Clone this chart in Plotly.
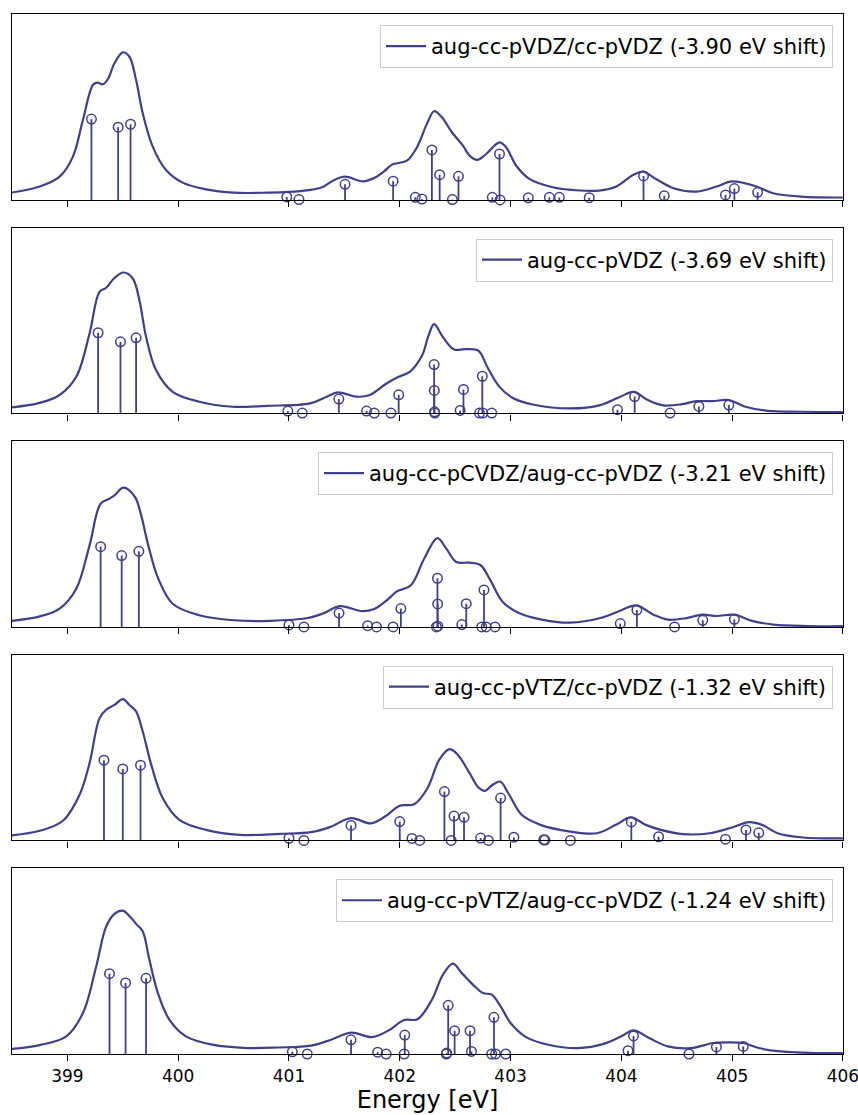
import plotly.graph_objects as go
from plotly.subplots import make_subplots

# ---------------- data ----------------
labels = [
    "aug-cc-pVDZ/cc-pVDZ (-3.90 eV shift)",
    "aug-cc-pVDZ (-3.69 eV shift)",
    "aug-cc-pCVDZ/aug-cc-pVDZ (-3.21 eV shift)",
    "aug-cc-pVTZ/cc-pVDZ (-1.32 eV shift)",
    "aug-cc-pVTZ/aug-cc-pVDZ (-1.24 eV shift)",
]
tick_values = [399, 400, 401, 402, 403, 404, 405, 406]

# broadened spectra (energy, intensity)
curve1_x = [398.49, 398.75, 398.93, 399.05, 399.14, 399.23, 399.27, 399.32, 399.365, 399.425, 399.5, 399.56, 399.62, 399.68, 399.77, 399.89, 400.04, 400.25, 400.5, 400.8, 401.1, 401.3, 401.4, 401.505, 401.67, 401.79, 401.855, 401.93, 401.975, 402.065, 402.155, 402.245, 402.31, 402.38, 402.47, 402.57, 402.63, 402.70, 402.78, 402.90, 402.96, 403.05, 403.17, 403.38, 403.59, 403.80, 403.955, 404.105, 404.196, 404.317, 404.47, 404.68, 404.86, 405.0, 405.22, 405.37, 405.62, 406.0]
curve1_y = [0.039, 0.072, 0.125, 0.233, 0.43, 0.618, 0.631, 0.622, 0.649, 0.735, 0.794, 0.77, 0.645, 0.466, 0.287, 0.161, 0.093, 0.057, 0.039, 0.039, 0.047, 0.068, 0.105, 0.125, 0.10, 0.125, 0.152, 0.19, 0.197, 0.211, 0.283, 0.409, 0.477, 0.444, 0.364, 0.292, 0.238, 0.215, 0.247, 0.31, 0.283, 0.185, 0.113, 0.068, 0.052, 0.05, 0.072, 0.134, 0.152, 0.111, 0.063, 0.045, 0.072, 0.10, 0.072, 0.036, 0.018, 0.013]

curve2_x = [398.49, 398.75, 398.93, 399.08, 399.2, 399.29, 399.35, 399.42, 399.506, 399.59, 399.65, 399.71, 399.80, 399.95, 400.19, 400.49, 400.80, 401.19, 401.34, 401.44, 401.61, 401.73, 401.88, 401.99, 402.09, 402.2, 402.26, 402.31, 402.39, 402.49, 402.59, 402.71, 402.79, 402.9, 403.03, 403.2, 403.54, 403.81, 403.99, 404.11, 404.24, 404.38, 404.55, 404.68, 404.82, 404.97, 405.12, 405.32, 405.63, 406.0]
curve2_y = [0.032, 0.057, 0.099, 0.197, 0.43, 0.654, 0.676, 0.726, 0.758, 0.726, 0.609, 0.412, 0.233, 0.116, 0.063, 0.036, 0.041, 0.054, 0.090, 0.113, 0.09, 0.099, 0.161, 0.197, 0.224, 0.31, 0.42, 0.48, 0.41, 0.344, 0.346, 0.337, 0.25, 0.143, 0.08, 0.048, 0.027, 0.045, 0.09, 0.116, 0.072, 0.043, 0.05, 0.066, 0.066, 0.072, 0.036, 0.014, 0.009, 0.007]

curve3_x = [398.49, 398.75, 398.93, 399.08, 399.2, 399.30, 399.38, 399.425, 399.506, 399.61, 399.666, 399.73, 399.82, 399.95, 400.19, 400.5, 400.83, 401.17, 401.305, 401.46, 401.66, 401.77, 401.9, 401.97, 402.10, 402.22, 402.34, 402.42, 402.51, 402.63, 402.73, 402.81, 402.93, 403.07, 403.27, 403.54, 403.81, 404.0, 404.135, 404.29, 404.42, 404.59, 404.73, 404.86, 405.02, 405.17, 405.37, 405.68, 406.0]
curve3_y = [0.032, 0.057, 0.099, 0.206, 0.439, 0.663, 0.69, 0.708, 0.749, 0.699, 0.6, 0.439, 0.26, 0.125, 0.063, 0.036, 0.033, 0.048, 0.072, 0.112, 0.085, 0.097, 0.152, 0.19, 0.224, 0.367, 0.478, 0.421, 0.349, 0.346, 0.332, 0.26, 0.134, 0.077, 0.041, 0.023, 0.048, 0.09, 0.116, 0.066, 0.039, 0.048, 0.066, 0.059, 0.066, 0.034, 0.013, 0.005, 0.004]

curve4_x = [398.49, 398.75, 398.96, 399.11, 399.2, 399.29, 399.35, 399.425, 399.5, 399.56, 399.62, 399.68, 399.757, 399.86, 400.01, 400.25, 400.56, 400.92, 401.2, 401.37, 401.56, 401.74, 401.87, 402.0, 402.13, 402.25, 402.356, 402.45, 402.525, 402.63, 402.71, 402.77, 402.83, 402.905, 402.98, 403.10, 403.27, 403.54, 403.78, 403.95, 404.085, 404.22, 404.356, 404.56, 404.8, 405.0, 405.153, 405.27, 405.41, 405.64, 406.0]
curve4_y = [0.027, 0.052, 0.106, 0.246, 0.416, 0.658, 0.703, 0.729, 0.76, 0.729, 0.694, 0.586, 0.407, 0.228, 0.111, 0.057, 0.03, 0.036, 0.045, 0.072, 0.12, 0.092, 0.13, 0.187, 0.195, 0.281, 0.434, 0.491, 0.46, 0.362, 0.285, 0.267, 0.296, 0.317, 0.254, 0.138, 0.084, 0.048, 0.039, 0.084, 0.124, 0.084, 0.057, 0.034, 0.039, 0.07, 0.099, 0.084, 0.039, 0.016, 0.011]

curve5_x = [398.49, 398.75, 398.99, 399.14, 399.26, 399.35, 399.425, 399.5, 399.576, 399.62, 399.68, 399.74, 399.817, 399.92, 400.07, 400.31, 400.62, 400.9, 401.2, 401.38, 401.56, 401.75, 401.9, 402.04, 402.16, 402.29, 402.39, 402.48, 402.56, 402.66, 402.75, 402.83, 402.91, 403.0, 403.14, 403.34, 403.61, 403.85, 404.0, 404.11, 404.25, 404.42, 404.63, 404.83, 404.97, 405.1, 405.24, 405.44, 405.75, 406.0]
curve5_y = [0.027, 0.048, 0.095, 0.22, 0.471, 0.686, 0.754, 0.771, 0.731, 0.70, 0.659, 0.507, 0.328, 0.185, 0.095, 0.05, 0.032, 0.035, 0.045, 0.077, 0.115, 0.091, 0.127, 0.183, 0.187, 0.292, 0.427, 0.486, 0.435, 0.373, 0.328, 0.319, 0.256, 0.167, 0.091, 0.05, 0.032, 0.056, 0.095, 0.127, 0.086, 0.041, 0.032, 0.059, 0.063, 0.059, 0.032, 0.014, 0.005, 0.005]

# stick spectra (transition energy, oscillator strength)
sticks1_x = [399.217, 399.458, 399.57, 400.98, 401.09, 401.506, 401.94, 402.14, 402.2, 402.29, 402.36, 402.475, 402.53, 402.835, 402.90, 402.905, 403.16, 403.35, 403.44, 403.71, 404.2, 404.387, 404.94, 405.02, 405.23]
sticks1_y = [0.435, 0.391, 0.407, 0.016, 0.002, 0.084, 0.101, 0.014, 0.005, 0.269, 0.136, 0.002, 0.127, 0.014, 0.247, 0.0, 0.011, 0.014, 0.014, 0.012, 0.129, 0.023, 0.027, 0.061, 0.041]

sticks2_x = [399.277, 399.479, 399.62, 400.99, 401.12, 401.45, 401.70, 401.77, 401.92, 401.99, 402.31, 402.312, 402.314, 402.316, 402.545, 402.575, 402.72, 402.745, 402.75, 402.83, 403.965, 404.12, 404.44, 404.70, 404.97]
sticks2_y = [0.434, 0.385, 0.407, 0.013, 0.002, 0.077, 0.013, 0.002, 0.002, 0.10, 0.263, 0.124, 0.009, 0.002, 0.016, 0.129, 0.002, 0.20, 0.002, 0.002, 0.02, 0.091, 0.002, 0.038, 0.045]

sticks3_x = [399.30, 399.49, 399.645, 401.0, 401.135, 401.452, 401.71, 401.79, 401.94, 402.01, 402.34, 402.342, 402.344, 402.33, 402.56, 402.6, 402.74, 402.76, 402.78, 402.86, 403.99, 404.14, 404.48, 404.735, 405.02]
sticks3_y = [0.432, 0.384, 0.407, 0.011, 0.0, 0.075, 0.007, 0.0, 0.0, 0.099, 0.262, 0.124, 0.004, 0.0, 0.013, 0.125, 0.0, 0.199, 0.0, 0.0, 0.018, 0.091, 0.0, 0.036, 0.041]

sticks4_x = [399.33, 399.50, 399.66, 401.0, 401.135, 401.56, 402.0, 402.11, 402.18, 402.403, 402.464, 402.49, 402.58, 402.73, 402.8, 402.91, 403.03, 403.30, 403.31, 403.54, 404.09, 404.336, 404.94, 405.125, 405.24]
sticks4_y = [0.432, 0.385, 0.405, 0.012, 0.0, 0.081, 0.102, 0.011, 0.0, 0.263, 0.0, 0.131, 0.125, 0.013, 0.0, 0.228, 0.018, 0.004, 0.002, 0.0, 0.10, 0.02, 0.007, 0.057, 0.041]

sticks5_x = [399.38, 399.525, 399.71, 401.03, 401.165, 401.56, 401.80, 401.877, 402.045, 402.04, 402.424, 402.437, 402.42, 402.495, 402.634, 402.647, 402.83, 402.85, 402.864, 402.956, 404.06, 404.11, 404.61, 404.858, 405.1]
sticks5_y = [0.432, 0.382, 0.407, 0.012, 0.0, 0.076, 0.01, 0.0, 0.102, 0.0, 0.005, 0.262, 0.0, 0.125, 0.125, 0.014, 0.0, 0.197, 0.0, 0.0, 0.018, 0.097, 0.0, 0.038, 0.041]

curves_x = [curve1_x, curve2_x, curve3_x, curve4_x, curve5_x]
curves_y = [curve1_y, curve2_y, curve3_y, curve4_y, curve5_y]
sticks_x = [sticks1_x, sticks2_x, sticks3_x, sticks4_x, sticks5_x]
sticks_y = [sticks1_y, sticks2_y, sticks3_y, sticks4_y, sticks5_y]

# ---------------- layout geometry ----------------
W, H = 858, 1115
ML, MR, MT, MB = 12, 15, 14, 61
PLOT_H = H - MT - MB
GAP = 27.6
PANEL_H = (PLOT_H - 4 * GAP) / 5
COLOR = "#40408a"
FONT = "DejaVu Sans"

fig = make_subplots(rows=5, cols=1, shared_xaxes=True, vertical_spacing=GAP / PLOT_H)

legend_layouts = {}
for i in range(5):
    row = i + 1
    leg = "legend" if i == 0 else f"legend{i + 1}"
    fig.add_trace(go.Scatter(
        x=curves_x[i], y=curves_y[i], mode="lines", name=labels[i],
        line=dict(color=COLOR, width=2.2, shape="spline", smoothing=1.0),
        legend=leg, showlegend=True, hoverinfo="skip"), row=row, col=1)
    sx, sy = [], []
    for e, h in zip(sticks_x[i], sticks_y[i]):
        sx += [e, e, None]
        sy += [0, h, None]
    fig.add_trace(go.Scatter(
        x=sx, y=sy, mode="lines", line=dict(color=COLOR, width=1.8),
        showlegend=False, hoverinfo="skip"), row=row, col=1)
    fig.add_trace(go.Scatter(
        x=sticks_x[i], y=sticks_y[i], mode="markers", cliponaxis=False,
        marker=dict(symbol="circle-open", size=9.5, color=COLOR,
                    line=dict(width=1.5, color=COLOR)),
        showlegend=False, hoverinfo="skip"), row=row, col=1)

    panel_top_px = MT + i * (PANEL_H + GAP)
    legend_layouts[leg] = dict(
        x=1 - 10 / (W - ML - MR), y=1 - (panel_top_px + 11 - MT) / PLOT_H,
        xanchor="right", yanchor="top", xref="paper", yref="paper",
        bgcolor="rgba(255,255,255,0.85)", bordercolor="#cccccc", borderwidth=1,
        font=dict(family=FONT, size=21, color="black"),
        tracegroupgap=0, itemwidth=40)

fig.update_xaxes(range=[398.5, 406.0005], tickvals=tick_values, ticks="outside",
                 ticklen=6, tickwidth=1.3, tickcolor="black", showline=True,
                 linecolor="black", linewidth=1.3, mirror=True, showgrid=False,
                 zeroline=False, automargin=False, ticklabeloverflow="allow",
                 tickfont=dict(family=FONT, size=17, color="black"))
fig.update_xaxes(title=dict(text="Energy [eV]", font=dict(family=FONT, size=24, color="black"),
                            standoff=4), row=5, col=1)
fig.update_yaxes(range=[0, 1], showticklabels=False, ticks="", showline=True,
                 linecolor="black", linewidth=1.3, mirror=True, showgrid=False,
                 zeroline=False, automargin=False)

fig.update_layout(
    template="none", width=W, height=H,
    margin=dict(l=ML, r=MR, t=MT, b=MB, pad=0),
    paper_bgcolor="white", plot_bgcolor="white",
    font=dict(family=FONT, color="black"),
    hovermode=False,
    **legend_layouts,
)

fig.write_html(
    "out.html",
    config={"displayModeBar": False, "staticPlot": False},
    post_script="document.body.style.margin='0';document.body.style.padding='0';"
                "document.documentElement.style.overflow='hidden';",
)
